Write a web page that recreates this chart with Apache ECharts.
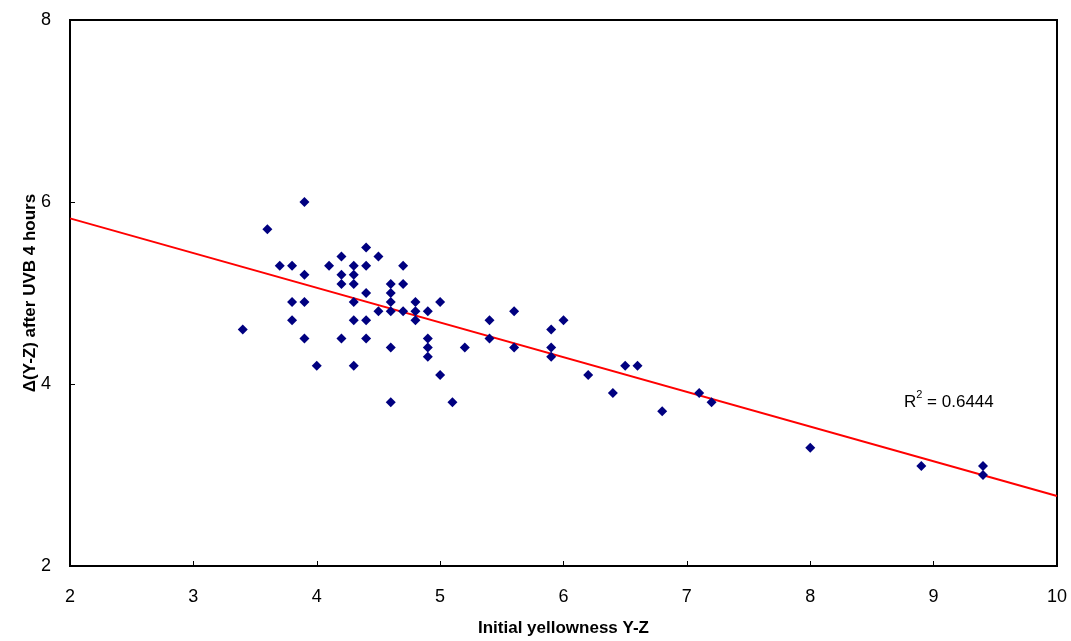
<!DOCTYPE html>
<html>
<head>
<meta charset="utf-8">
<script src="https://cdn.jsdelivr.net/npm/echarts@6/dist/echarts.min.js"></script>
<style>html,body{margin:0;padding:0;background:#fff;}#c{width:1071px;height:641px;}</style>
</head>
<body>
<div id="c"></div>
<script>
const xValues = [3.9,3.6,3.7,3.8,3.9,4.1,4.2,4.2,4.2,4.3,4.3,4.3,4.4,4.4,4.4,4.5,4.7,4.7,4.6,4.6,4.6,4.6,4.7,4.5,4.8,4.8,4.8,3.8,3.9,4.3,3.8,4.3,4.4,3.4,3.9,4.2,4.4,4.6,4.0,4.3,4.6,5.0,4.9,4.9,4.9,4.9,5.0,5.1,5.2,5.4,5.4,5.6,5.6,5.9,5.9,5.9,6.0,6.2,6.4,6.5,6.6,6.8,7.1,7.2,8.0,8.9,9.4,9.4];
const yValues = [6.0,5.7,5.3,5.3,5.2,5.3,5.4,5.2,5.1,5.3,5.2,5.1,5.5,5.3,5.0,5.4,5.3,5.1,5.1,5.0,4.9,4.8,4.8,4.8,4.9,4.8,4.7,4.9,4.9,4.9,4.7,4.7,4.7,4.6,4.5,4.5,4.5,4.4,4.2,4.2,3.8,4.9,4.8,4.5,4.4,4.3,4.1,3.8,4.4,4.7,4.5,4.8,4.4,4.6,4.4,4.3,4.7,4.1,3.9,4.2,4.2,3.7,3.9,3.8,3.3,3.1,3.1,3.0];
const trendX = [2, 10];
const trendY = [5.82, 2.77];
const xTicks = [2,3,4,5,6,7,8,9,10];
const yTicks = [2,4,6,8];
const r2Label = '0.6444';

const points = xValues.map((x, i) => [x, yValues[i]]);
const trend = trendX.map((x, i) => [x, trendY[i]]);
const font = '"Liberation Sans", Arial, sans-serif';

const chart = echarts.init(document.getElementById('c'), null, {renderer: 'canvas'});
chart.setOption({
  animation: false,
  backgroundColor: '#fff',
  grid: {left: 70, top: 20, right: 14, bottom: 75, containLabel: false, outerBoundsMode: 'none', show: true, borderColor: '#000', borderWidth: 2, backgroundColor: 'transparent'},
  xAxis: {
    type: 'value', min: xTicks[0], max: xTicks[xTicks.length-1], interval: 1,
    axisLine: {show: true, onZero: false, lineStyle: {color: '#000', width: 2}},
    axisTick: {show: true, inside: true, length: 5, lineStyle: {color: '#000', width: 1}},
    axisLabel: {color: '#000', fontSize: 18, fontFamily: font, margin: 22},
    splitLine: {show: false},
    name: 'Initial yellowness Y-Z', nameLocation: 'middle', nameGap: 54, nameMoveOverlap: false,
    nameTextStyle: {color: '#000', fontSize: 17, fontWeight: 'bold', fontFamily: font}
  },
  yAxis: {
    type: 'value', min: yTicks[0], max: yTicks[yTicks.length-1], interval: 2,
    axisLine: {show: true, onZero: false, lineStyle: {color: '#000', width: 2}},
    axisTick: {show: true, inside: true, length: 5, lineStyle: {color: '#000', width: 1}},
    axisLabel: {color: '#000', fontSize: 18, fontFamily: font, margin: 19},
    splitLine: {show: false},
    name: 'Δ(Y-Z) after UVB 4 hours', nameLocation: 'middle', nameGap: 31, nameRotate: 90, nameMoveOverlap: false,
    nameTextStyle: {color: '#000', fontSize: 17, fontWeight: 'bold', fontFamily: font}
  },
  graphic: [{
    type: 'text', left: 904, top: 389,
    style: {
      text: '{r|R}{s|2}{r| = ' + r2Label + '}',
      rich: {
        r: {fontSize: 17, fontFamily: font, fill: '#000', verticalAlign: 'bottom', lineHeight: 22},
        s: {fontSize: 11, fontFamily: font, fill: '#000', verticalAlign: 'top', lineHeight: 22, padding: [0,0,9,0]}
      }
    }
  }],
  series: [
    {
      type: 'line', data: trend, showSymbol: false, symbol: 'none',
      lineStyle: {color: '#ff0000', width: 2}, z: 2
    },
    {
      type: 'scatter', data: points, symbol: 'diamond', symbolSize: 10,
      itemStyle: {color: '#000080', opacity: 1}, z: 3
    }
  ]
});
</script>
</body>
</html>
